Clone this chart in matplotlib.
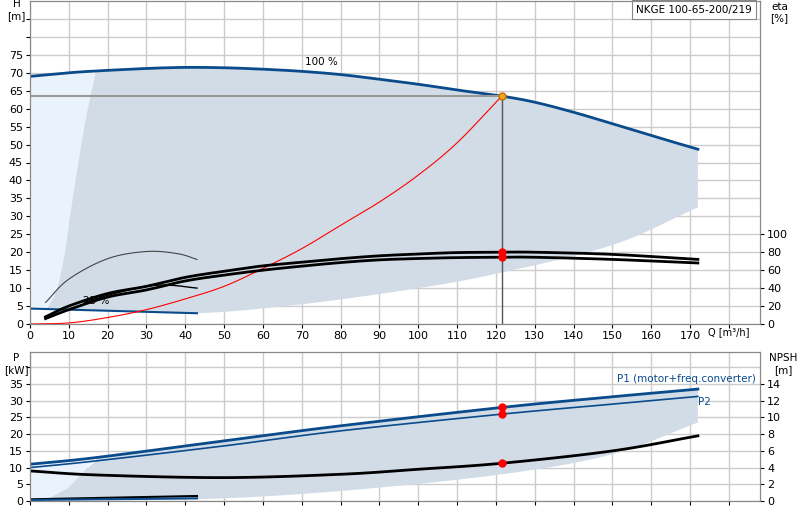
import matplotlib
matplotlib.use("Agg")
import matplotlib.pyplot as plt
import numpy as np

# 100% pump curve
q_h = [0, 10, 17, 30, 40, 50, 60, 70, 80, 90, 100, 110, 121.5, 130, 140, 150, 160, 172]
h_100 = [69, 70, 70.5, 71.2, 71.5, 71.4, 71, 70.4, 69.5, 68.2, 66.8, 65.2, 63.5, 61.8, 59, 55.8, 52.5, 48.7]
# min curve (lower boundary of range)
q_min = [4.5, 20, 43, 70, 100, 120, 150, 172]
h_min = [4.3, 3.7, 3.0, 5.5, 10, 14, 22, 32.5]
# left boundary
q_left = [4.5, 7, 9, 11, 14, 17]
h_left = [4.3, 10, 20, 35, 55, 70.5]
# low-speed line
q_low = [0, 43]; h_low = [4.3, 3.0]
# efficiency curves (eta %)
q_eta = [4, 10, 20, 30, 40, 50, 60, 70, 80, 90, 100, 110, 121.5, 130, 150, 172]
eta1 = [8, 20, 34, 42, 52, 58.8, 64.8, 68.8, 72.8, 76, 78, 79.6, 80, 80, 77.6, 72]
eta2 = [6, 16, 30, 38, 48, 54.5, 60, 64.5, 68.5, 71.5, 73, 74, 74.4, 74.4, 72, 68]
q_arc = [4, 10, 20, 30, 38, 43]; h_arc = [6, 12.5, 18.2, 20.2, 19.6, 18]
q_arc2 = [14, 20, 30, 36, 43]; h_arc2 = [6, 8, 10.5, 10.8, 10]
# system curve
q_sys = [0, 10, 20, 30, 40, 50, 60, 70, 80, 90, 100, 110, 121.5]
h_sys = [0, 0.3, 1.8, 4, 7, 10.5, 15.5, 21, 27.5, 34, 41.5, 50.5, 63.5]
q_op, h_op = 121.5, 63.5
# power
q_p = [0, 17, 50, 80, 121.5, 150, 172]
p1 = [11, 13, 18, 22.5, 28, 31.2, 33.5]
p2 = [10, 12, 16.5, 21, 26, 29, 31.3]
q_n = [0, 17, 50, 80, 100, 121.5, 150, 172]
npsh = [3.6, 3.12, 2.8, 3.2, 3.8, 4.52, 6.0, 7.8]
q_pmin = [4, 43, 80, 121.5, 150, 172]
p_min = [0.3, 0.5, 3, 8, 14, 23.5]

def smooth(x, y, n=12):
    x = np.asarray(x, float); y = np.asarray(y, float)
    if len(x) < 3: return x, y
    P = np.column_stack([x, y])
    P = np.vstack([2*P[0]-P[1], P, 2*P[-1]-P[-2]])
    out = []
    for i in range(1, len(P)-2):
        p0, p1_, p2_, p3 = P[i-1], P[i], P[i+1], P[i+2]
        for t in np.linspace(0, 1, n, endpoint=False):
            out.append(0.5*((2*p1_) + (-p0+p2_)*t + (2*p0-5*p1_+4*p2_-p3)*t*t + (-p0+3*p1_-3*p2_+p3)*t**3))
    out.append(P[-2])
    out = np.array(out)
    return out[:, 0], out[:, 1]

shade = "#d1dce7"; light = "#eaf3fc"; blue = "#0a4b8c"; grid = "#cccccc"
fig = plt.figure(figsize=(8, 5.2), dpi=100)
ax = fig.add_axes([30/800, 196/520, 730/800, 323/520])
bx = fig.add_axes([30/800, 19/520, 730/800, 149/520])

def style(a, ylim, yt):
    a.set_xlim(0, 188); a.set_ylim(*ylim)
    a.set_xticks(range(0, 190, 10)); a.set_yticks(yt)
    a.grid(True, color=grid, lw=1); a.set_axisbelow(True)
    a.tick_params(labelsize=8, length=3, pad=2)
    for s in a.spines.values(): s.set_color("#888888")

style(ax, (0, 90), list(range(0, 90, 5)))
ax.set_yticklabels([str(v) if v <= 75 else "" for v in range(0, 90, 5)])
ax.set_xticklabels([str(v) if v <= 170 else "" for v in range(0, 190, 10)])
ax.text(180, -1, "Q [m³/h]", fontsize=7, va="top", ha="center")
ax.text(-3.5, 87.5, "H\n[m]", fontsize=7.5, ha="center", va="center", clip_on=False)

# regions
lx, ly = smooth(q_left, h_left)
hx, hy = smooth(q_h, h_100)
mx, my = smooth(q_min, h_min)
m0 = hx <= 17
ax.fill(list(hx[m0]) + list(lx[::-1]) + [0], list(hy[m0]) + list(ly[::-1]) + [4.3], color=light, lw=0)
m1 = hx >= 17
ax.fill(list(hx[m1]) + list(mx[::-1]) + list(lx), list(hy[m1]) + list(my[::-1]) + list(ly), color=shade, lw=0)
ax.plot(hx, hy, color=blue, lw=2)
ax.plot(q_low, h_low, color=blue, lw=1.5)
ax.plot([0, q_op], [h_op, h_op], color="#999999", lw=1.5)
ax.plot([q_op, q_op], [0, h_op], color="#555555", lw=1)
ax.plot(*smooth(q_sys, h_sys), color="red", lw=0.8)
ax.plot(*smooth(q_arc, h_arc), color="#444444", lw=0.8)
ax.plot(*smooth(q_arc2, h_arc2), color="black", lw=1)
ax.text(75, 71.5, "100 %", fontsize=7.5, ha="center", va="bottom")
ax.text(17, 6.5, "25 %", fontsize=7.5, ha="center", va="center")
ax.plot(q_op, h_op, "o", color="#f5a623", mec="#c07000", ms=5)
ax.text(186, 89, "NKGE 100-65-200/219", fontsize=7.5, ha="right", va="top",
        bbox=dict(fc="white", ec="#888888", lw=0.8, pad=3))

ex = ax.twinx(); ex.set_ylim(0, 360)
ex.set_yticks(range(0, 101, 20)); ex.tick_params(labelsize=8, length=3, pad=2)
ex.plot(*smooth(q_eta, eta1), color="black", lw=2)
ex.plot(*smooth(q_eta, eta2), color="black", lw=2)
ex.plot([q_op, q_op], [80, 74.4], "o", color="red", ms=5)
ex.text(193, 347, "eta\n[%]", fontsize=7.5, ha="center", va="center", clip_on=False)
for s in ex.spines.values(): s.set_color("#888888")

style(bx, (0, 44.6), list(range(0, 45, 5)))
bx.set_yticklabels([str(v) if v <= 35 else "" for v in range(0, 45, 5)])
bx.set_xticklabels([])
bx.text(-3.5, 41, "P\n[kW]", fontsize=7.5, ha="center", va="center", clip_on=False)
p1x, p1y = smooth(q_p, p1)
pmx, pmy = smooth(q_pmin, p_min)
bx.fill([0, 17, 14, 10, 6, 4, 0], [11, 13, 9, 4, 1.5, 0.3, 0], color=light, lw=0)
mm = p1x >= 17
bx.fill(list(p1x[mm]) + list(pmx[::-1]) + [6, 10, 14, 17], list(p1y[mm]) + list(pmy[::-1]) + [1.5, 4, 9, 12], color=shade, lw=0)
bx.plot(p1x, p1y, color=blue, lw=2)
bx.plot(*smooth(q_p, p2), color=blue, lw=1.2)
bx.plot([0, 43], [0.5, 1.5], color="black", lw=1.5)
bx.plot([0, 43], [0.3, 0.8], color=blue, lw=1.5)
bx.plot([q_op, q_op], [28, 26], "o", color="red", ms=5)
bx.text(187, 35, "P1 (motor+freq.converter)", fontsize=7.5, color=blue, ha="right", va="bottom")
bx.text(172, 29.5, "P2", fontsize=7.5, color=blue, ha="left", va="center")
nx = bx.twinx(); nx.set_ylim(0, 44.6/2.5)
nx.set_yticks(range(0, 15, 2)); nx.tick_params(labelsize=8, length=3, pad=2)
nx.plot(*smooth(q_n, npsh), color="black", lw=2)
nx.plot(q_op, 4.52, "o", color="red", ms=5)
nx.text(194, 16.4, "NPSH\n[m]", fontsize=7.5, ha="center", va="center", clip_on=False)
for s in nx.spines.values(): s.set_color("#888888")

fig.savefig("out.png", dpi=100)
